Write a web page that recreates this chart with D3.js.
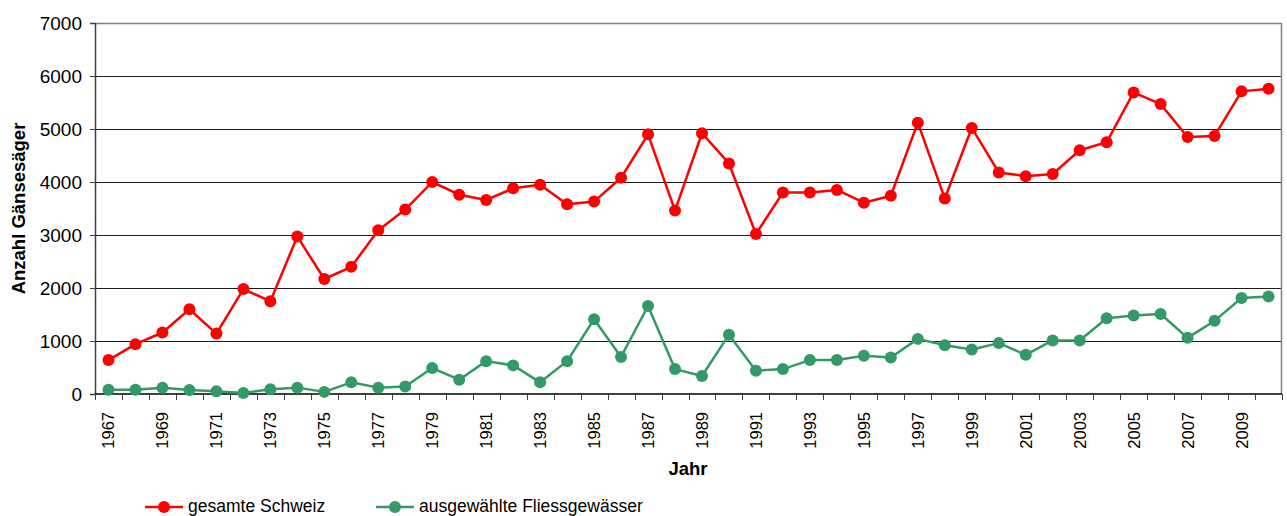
<!DOCTYPE html>
<html>
<head>
<meta charset="utf-8">
<script src="https://cdn.jsdelivr.net/npm/d3@7"></script>
<style>
  body { margin: 0; background: #fff; }
  svg { display: block; font-family: "Liberation Sans", Arial, sans-serif; }
</style>
</head>
<body>
<div id="chart"></div>
<script>
// Gänsesäger counts, 1967-2010
const years = d3.range(1967, 2011);

const schweiz = [640, 940, 1160, 1600, 1140, 1980, 1750, 2970, 2170, 2400,
  3090, 3480, 4000, 3760, 3660, 3880, 3950, 3580, 3630, 4080,
  4900, 3460, 4920, 4350, 3020, 3800, 3800, 3850, 3610, 3740,
  5120, 3690, 5020, 4180, 4110, 4150, 4600, 4750, 5690, 5470,
  4850, 4870, 5710, 5760];

const fliess = [80, 80, 120, 75, 50, 20, 90, 120, 40, 220,
  120, 140, 490, 270, 620, 540, 220, 620, 1410, 700,
  1660, 470, 340, 1120, 440, 470, 640, 640, 720, 690,
  1040, 920, 840, 960, 740, 1010, 1010, 1430, 1480, 1510,
  1060, 1380, 1810, 1840];

const yTicks = [0, 1000, 2000, 3000, 4000, 5000, 6000, 7000];
const seriesNames = ["gesamte Schweiz", "ausgewählte Fliessgewässer"];
const seriesColors = ["#ff0000", "#339966"];

const width = 1287;
const height = 516;
const margin = { top: 23, right: 5, bottom: 122, left: 95 };

const svg = d3
  .select("#chart")
  .append("svg")
  .attr("width", width)
  .attr("height", height);

const x = d3
  .scaleBand()
  .domain(years)
  .range([margin.left, width - margin.right])
  .padding(0);

const y = d3
  .scaleLinear()
  .domain([0, 7000])
  .range([height - margin.bottom, margin.top]);

const cx = d => x(d) + x.bandwidth() / 2;

// gridlines
svg
  .append("g")
  .selectAll("line")
  .data(yTicks.filter(t => t > 0 && t < 7000))
  .enter()
  .append("line")
  .attr("x1", margin.left)
  .attr("x2", width - margin.right)
  .attr("y1", d => Math.round(y(d)) + 0.5)
  .attr("y2", d => Math.round(y(d)) + 0.5)
  .attr("stroke", "#1a1a1a")
  .attr("stroke-width", 1);

// plot border top + right
svg
  .append("path")
  .attr("d", `M${margin.left},${Math.round(y(7000)) + 0.5}H${width - margin.right - 0.5}V${y(0)}`)
  .attr("fill", "none")
  .attr("stroke", "#808080")
  .attr("stroke-width", 1.5);

// y axis
const yAxis = svg
  .append("g")
  .attr("transform", `translate(${margin.left},0)`)
  .call(d3.axisLeft(y).tickValues(yTicks).tickSize(5).tickPadding(8).tickFormat(d3.format("d")));
yAxis.select(".domain").attr("stroke", "#404040").attr("stroke-width", 1.5);
yAxis.selectAll(".tick line").attr("stroke", "#404040");
yAxis.selectAll("text").attr("font-size", 19).attr("fill", "#000");

// x axis: ticks at band edges, labels every second year
const xAxisG = svg.append("g");
xAxisG
  .append("line")
  .attr("x1", margin.left)
  .attr("x2", width - margin.right)
  .attr("y1", y(0))
  .attr("y2", y(0))
  .attr("stroke", "#000")
  .attr("stroke-width", 1.5);

xAxisG
  .selectAll(".xtick")
  .data(years.concat([2011]))
  .enter()
  .append("line")
  .attr("class", "xtick")
  .attr("x1", (d, i) => Math.round(margin.left + i * x.bandwidth()) + 0.5)
  .attr("x2", (d, i) => Math.round(margin.left + i * x.bandwidth()) + 0.5)
  .attr("y1", y(0))
  .attr("y2", y(0) + 6)
  .attr("stroke", "#404040");

xAxisG
  .selectAll(".xlabel")
  .data(years.filter((d, i) => i % 2 === 0))
  .enter()
  .append("text")
  .attr("class", "xlabel")
  .attr("transform", d => `translate(${cx(d) + 6},${y(0) + 18}) rotate(-90)`)
  .attr("text-anchor", "end")
  .attr("font-size", 16.5)
  .text(d => d);

// axis titles
svg
  .append("text")
  .attr("transform", `translate(25,${(y(0) + y(7000)) / 2}) rotate(-90)`)
  .attr("text-anchor", "middle")
  .attr("font-size", 18.5)
  .attr("font-weight", "bold")
  .text("Anzahl Gänsesäger");

svg
  .append("text")
  .attr("x", 688)
  .attr("y", 475)
  .attr("text-anchor", "middle")
  .attr("font-size", 18.5)
  .attr("font-weight", "bold")
  .text("Jahr");

// series
const line = d3
  .line()
  .x((d, i) => cx(years[i]))
  .y(d => y(d));

[schweiz, fliess].forEach((values, k) => {
  const g = svg.append("g");
  g.append("path")
    .datum(values)
    .attr("d", line)
    .attr("fill", "none")
    .attr("stroke", seriesColors[k])
    .attr("stroke-width", 2.5)
    .attr("stroke-linejoin", "round");
  g.selectAll("circle")
    .data(values)
    .enter()
    .append("circle")
    .attr("cx", (d, i) => cx(years[i]))
    .attr("cy", d => y(d))
    .attr("r", 6)
    .attr("fill", seriesColors[k]);
});

// legend (sits at the very bottom edge, as in the original)
const legendX = [145, 376];
const legend = svg
  .selectAll(".legend")
  .data(seriesNames)
  .enter()
  .append("g")
  .attr("class", "legend")
  .attr("transform", (d, i) => `translate(${legendX[i]},507)`);

legend
  .append("line")
  .attr("x1", 0)
  .attr("x2", 38)
  .attr("stroke", (d, i) => seriesColors[i])
  .attr("stroke-width", 2.5);

legend
  .append("circle")
  .attr("cx", 19)
  .attr("r", 6)
  .attr("fill", (d, i) => seriesColors[i]);

legend
  .append("text")
  .attr("x", 43)
  .attr("y", 5)
  .attr("font-size", 17.5)
  .text(d => d);
</script>
</body>
</html>
